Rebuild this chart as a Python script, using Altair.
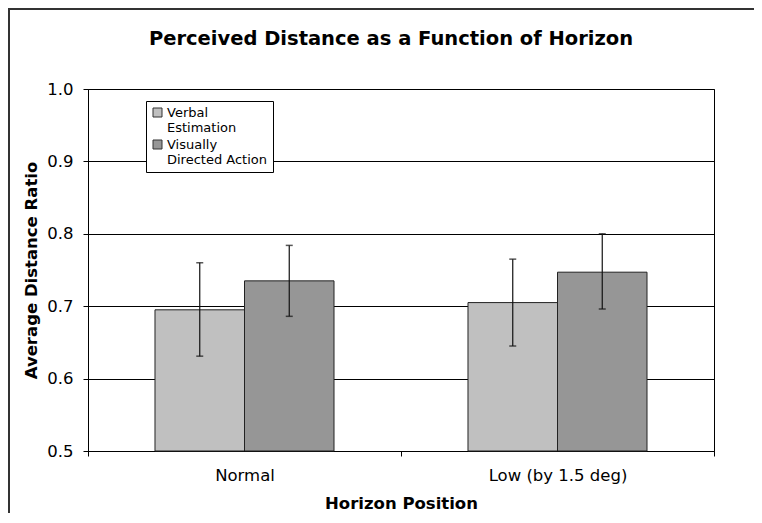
import altair as alt
import pandas as pd

TITLE = "Perceived Distance as a Function of Horizon"
categories = ["Normal", "Low (by 1.5 deg)"]
series = ["Verbal Estimation", "Visually Directed Action"]
verbal_mean = [0.695, 0.705]
verbal_low = [0.631, 0.645]
verbal_high = [0.760, 0.765]
action_mean = [0.735, 0.747]
action_low = [0.686, 0.696]
action_high = [0.784, 0.800]

rows = []
for i, c in enumerate(categories):
    rows.append(dict(cat=c, series=series[0], mean=verbal_mean[i], lo=verbal_low[i], hi=verbal_high[i]))
    rows.append(dict(cat=c, series=series[1], mean=action_mean[i], lo=action_low[i], hi=action_high[i]))
df = pd.DataFrame(rows)

FONT = "DejaVu Sans"

x_enc = alt.X("cat:N", sort=categories,
              scale=alt.Scale(paddingInner=0, paddingOuter=0),
              axis=alt.Axis(title="Horizon Position", labelAngle=0, tickBand="extent",
                            tickSize=5, labelPadding=11, titlePadding=12,
                            labelFont=FONT, titleFont=FONT,
                            labelFontSize=16.5, titleFontSize=16.5, titleFontWeight="bold"))
xoff = alt.XOffset("series:N", sort=series,
                   scale=alt.Scale(paddingInner=0, paddingOuter=0.7486))
y_scale = alt.Scale(domain=[0.5, 1.0], nice=False, zero=False)

bars = alt.Chart(df).mark_bar(stroke="#222222", strokeWidth=1).encode(
    x=x_enc,
    xOffset=xoff,
    y=alt.Y("mean:Q", scale=y_scale,
            axis=alt.Axis(title="Average Distance Ratio", values=[0.5, 0.6, 0.7, 0.8, 0.9, 1.0],
                          format=".1f", tickSize=5, labelPadding=10, titlePadding=7,
                          labelFont=FONT, titleFont=FONT,
                          labelFontSize=16.5, titleFontSize=16.5, titleFontWeight="bold")),
    y2=alt.datum(0.5),
    fill=alt.Fill("series:N", sort=series,
                  scale=alt.Scale(domain=series, range=["#C0C0C0", "#969696"]),
                  legend=alt.Legend(
                      title=None, orient="none", legendX=58, legendY=12,
                      labelExpr="[substring(datum.label, 0, indexof(datum.label, ' ')), substring(datum.label, indexof(datum.label, ' ') + 1)]",
                      labelFont=FONT, labelFontSize=13, labelColor="black",
                      labelBaseline="middle", labelOffset=3,
                      symbolType="square", symbolSize=81,
                      symbolStrokeColor="#333333", symbolStrokeWidth=1,
                      rowPadding=3, padding=5,
                      strokeColor="black", fillColor="white")),
)

rules = alt.Chart(df).mark_rule(color="#111111", strokeWidth=1.2).encode(
    x=alt.X("cat:N", sort=categories), xOffset=alt.XOffset("series:N", sort=series),
    y=alt.Y("lo:Q", scale=y_scale), y2="hi:Q")
caps_lo = alt.Chart(df).mark_tick(color="#111111", size=7, thickness=1.5).encode(
    x=alt.X("cat:N", sort=categories), xOffset=alt.XOffset("series:N", sort=series),
    y=alt.Y("lo:Q", scale=y_scale))
caps_hi = alt.Chart(df).mark_tick(color="#111111", size=7, thickness=1.5).encode(
    x=alt.X("cat:N", sort=categories), xOffset=alt.XOffset("series:N", sort=series),
    y=alt.Y("hi:Q", scale=y_scale))

title_text = alt.Chart(pd.DataFrame({"t": [TITLE]})).mark_text(
    font=FONT, fontSize=19.5, fontWeight="bold", color="black",
    align="center", baseline="alphabetic").encode(
    text="t:N", x=alt.value(303), y=alt.value(-44))

frame_data = pd.DataFrame({"k": [0]})
frame_left = alt.Chart(frame_data).mark_rect(color="#333333").encode(
    x=alt.value(-80), x2=alt.value(-78), y=alt.value(-81), y2=alt.value(430))
frame_top = alt.Chart(frame_data).mark_rect(color="#333333").encode(
    x=alt.value(-80), x2=alt.value(680), y=alt.value(-81), y2=alt.value(-79))

chart = alt.layer(bars, rules, caps_lo, caps_hi, title_text, frame_left, frame_top).properties(
    width=626, height=362,
    autosize=alt.AutoSizeParams(type="none"),
    padding={"left": 80, "top": 81, "right": 40, "bottom": 62},
    background="white",
).configure_view(stroke="black", strokeWidth=1).configure_axis(
    labelFont=FONT, titleFont=FONT, labelColor="black", titleColor="black",
    domainColor="black", tickColor="black", gridColor="black", gridWidth=1,
).configure_axisX(grid=False)

chart.save("out.html", embed_options={"renderer": "svg", "actions": False})
